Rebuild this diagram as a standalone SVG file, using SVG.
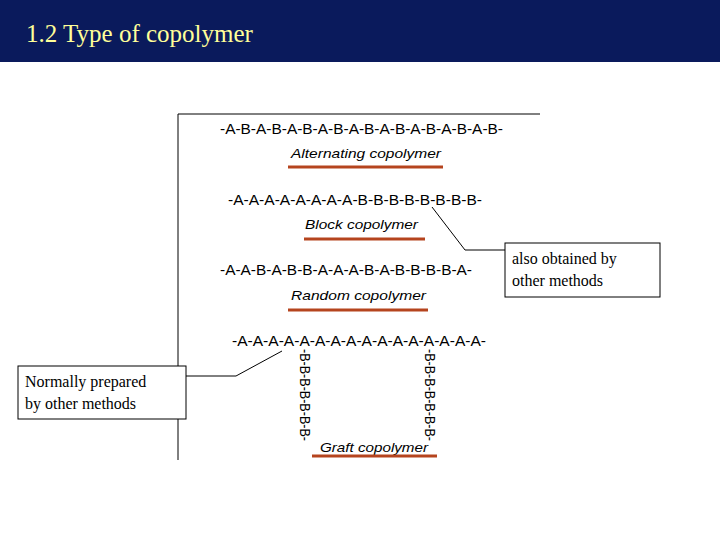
<svg xmlns="http://www.w3.org/2000/svg" width="720" height="540" viewBox="0 0 720 540">
<style>
.ch{font-family:"Liberation Sans",Arial,sans-serif;font-size:14px;fill:#000}
.lb{font-family:"Liberation Sans",Arial,sans-serif;font-size:13.5px;font-style:italic;fill:#000}
.bar{stroke:#b5441e;stroke-width:3}
.ln{stroke:#000;stroke-width:1;fill:none}
.bx{fill:#fff;stroke:#000;stroke-width:1}
.tm{font-family:"Liberation Serif","Times New Roman",serif;font-size:16px;fill:#000}
</style>
<rect x="0" y="0" width="720" height="540" fill="#fff"/>
<g id="header"><rect x="0" y="0" width="720" height="62" fill="#0a1a5c"/>
<text x="26" y="42" font-family="Liberation Serif,serif" font-size="25" fill="#ffff99">1.2 Type of copolymer</text></g>
<g id="frame"><path class="ln" d="M178 114 V460 M178 114 H540"/></g>
<g id="alternating"><text class="ch" x="220" y="134" textLength="283" lengthAdjust="spacingAndGlyphs">-A-B-A-B-A-B-A-B-A-B-A-B-A-B-A-B-A-B-</text>
<text class="lb" x="291" y="158" textLength="150" lengthAdjust="spacingAndGlyphs">Alternating copolymer</text><line class="bar" x1="288" y1="167" x2="443" y2="167"/></g>
<g id="block"><text class="ch" x="228" y="205" textLength="254" lengthAdjust="spacingAndGlyphs">-A-A-A-A-A-A-A-A-B-B-B-B-B-B-B-B-</text>
<text class="lb" x="305" y="229" textLength="113" lengthAdjust="spacingAndGlyphs">Block copolymer</text><line class="bar" x1="304" y1="239" x2="425" y2="239"/></g>
<g id="random"><text class="ch" x="220" y="275" textLength="252" lengthAdjust="spacingAndGlyphs">-A-A-B-A-B-B-A-A-A-B-A-B-B-B-B-A-</text>
<text class="lb" x="291" y="300" textLength="135" lengthAdjust="spacingAndGlyphs">Random copolymer</text><line class="bar" x1="288" y1="310" x2="428" y2="310"/></g>
<g id="graft"><text class="ch" x="232" y="346" textLength="254" lengthAdjust="spacingAndGlyphs">-A-A-A-A-A-A-A-A-A-A-A-A-A-A-A-A-</text>
<text class="ch" textLength="92" lengthAdjust="spacingAndGlyphs" transform="translate(300,349) rotate(90)">-B-B-B-B-B-B-B-</text>
<text class="ch" textLength="92" lengthAdjust="spacingAndGlyphs" transform="translate(425,349) rotate(90)">-B-B-B-B-B-B-B-</text>
<text class="lb" x="320" y="452" textLength="108" lengthAdjust="spacingAndGlyphs">Graft copolymer</text><line class="bar" x1="312" y1="456" x2="437" y2="456"/></g>
<g id="connectors"><path class="ln" d="M432 207 L465 250 H505"/><path class="ln" d="M186 376 H236 L282 351"/></g>
<g id="note-right"><rect class="bx" x="505" y="243" width="155" height="54"/>
<text class="tm" x="512" y="264">also obtained by</text><text class="tm" x="512" y="286">other methods</text></g>
<g id="note-left"><rect class="bx" x="18" y="366" width="168" height="53"/>
<text class="tm" x="25" y="387">Normally prepared</text><text class="tm" x="25" y="409">by other methods</text></g>
</svg>
